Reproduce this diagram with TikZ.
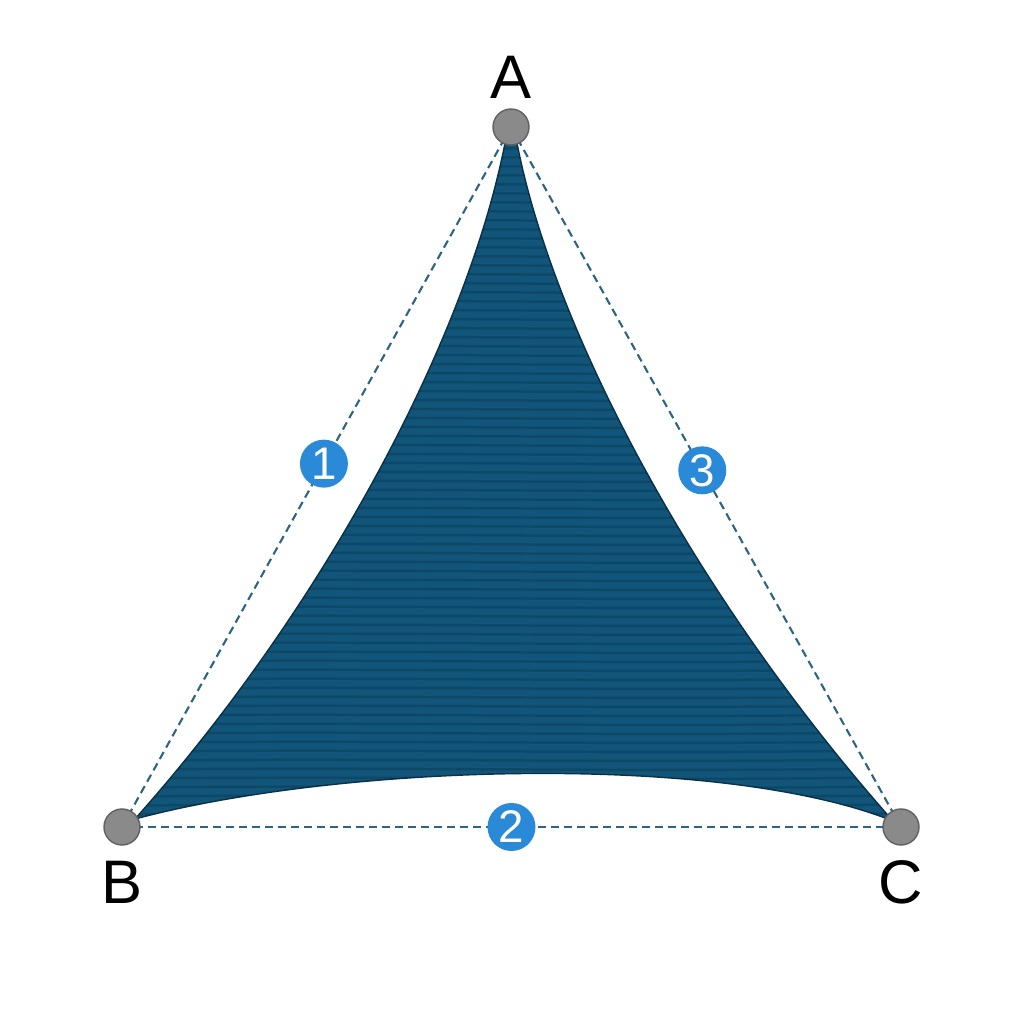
\documentclass[tikz,border=0pt]{standalone}
\usepackage{fontspec}
\setmainfont{Liberation Sans}
\usepackage{xcolor}
\definecolor{sail}{HTML}{11557A}
\definecolor{rope}{HTML}{2E6483}
\definecolor{badge}{HTML}{2A8AD8}
\definecolor{ring}{HTML}{8A8A8A}
\tikzset{corner/.style={circle,draw=ring!70!black,fill=ring,line width=0.4pt,minimum size=0.36cm,inner sep=0pt},
 badgenode/.style={circle,fill=badge,text=white,minimum size=0.48cm,inner sep=0pt,font=\fontsize{13}{13}\selectfont},
 ropeline/.style={draw=rope,line width=0.6pt,dash pattern=on 0.08cm off 0.05cm},
 letter/.style={font=\fontsize{17.5}{17.5}\selectfont},
 }

\begin{document}
\begin{tikzpicture}
        \useasboundingbox[fill=white] (0,0) rectangle (10.24,10.24);
        % corner points
        \coordinate (a) at (5.11, 8.97);
        \coordinate (b) at (1.22, 1.97);
        \coordinate (c) at (9.01, 1.97);

        % ropes
        \draw[ropeline] (a) -- (b);
        \draw[ropeline] (b) -- (c);
        \draw[ropeline] (c) -- (a);

        % sail
        \def\sailpath{(5.06, 8.86)
            .. controls (4.70, 6.94) and (3.30, 4.24) .. (1.35, 2.05)
            .. controls (3.40, 2.60) and (7.20, 2.72) .. (8.93, 2.03)
            .. controls (6.97, 4.24) and (5.52, 6.94) .. (5.16, 8.86) -- cycle}
        \path[fill=sail, draw=sail!60!black, line width=0.4pt] \sailpath;
        \begin{scope}
            \clip \sailpath;
            \foreach \y in {2.00, 2.09, ..., 8.90} {
                \draw[black, opacity=0.15, line width=0.7pt] (1, \y) .. controls (4, \y+0.04) and (6, \y-0.03) .. (9.2, \y+0.02);
            }
        \end{scope}

        % corners and labels
        \node[corner] (A) at (a) {};
        \node[corner] (B) at (b) {};
        \node[corner] (C) at (c) {};
        \node[letter] (labelA) at (5.11, 9.47) {A};
        \node[letter] (labelB) at (1.22, 1.42) {B};
        \node[letter] (labelC) at (9.01, 1.42) {C};

        % side numbers
        \path (A) -- (B) node[badgenode, pos=0.48] (one) {1};
        \path (B) -- (C) node[badgenode, pos=0.5] (two) {2};
        \path (C) -- (A) node[badgenode, pos=0.51] (three) {3};
\end{tikzpicture}
\end{document}
